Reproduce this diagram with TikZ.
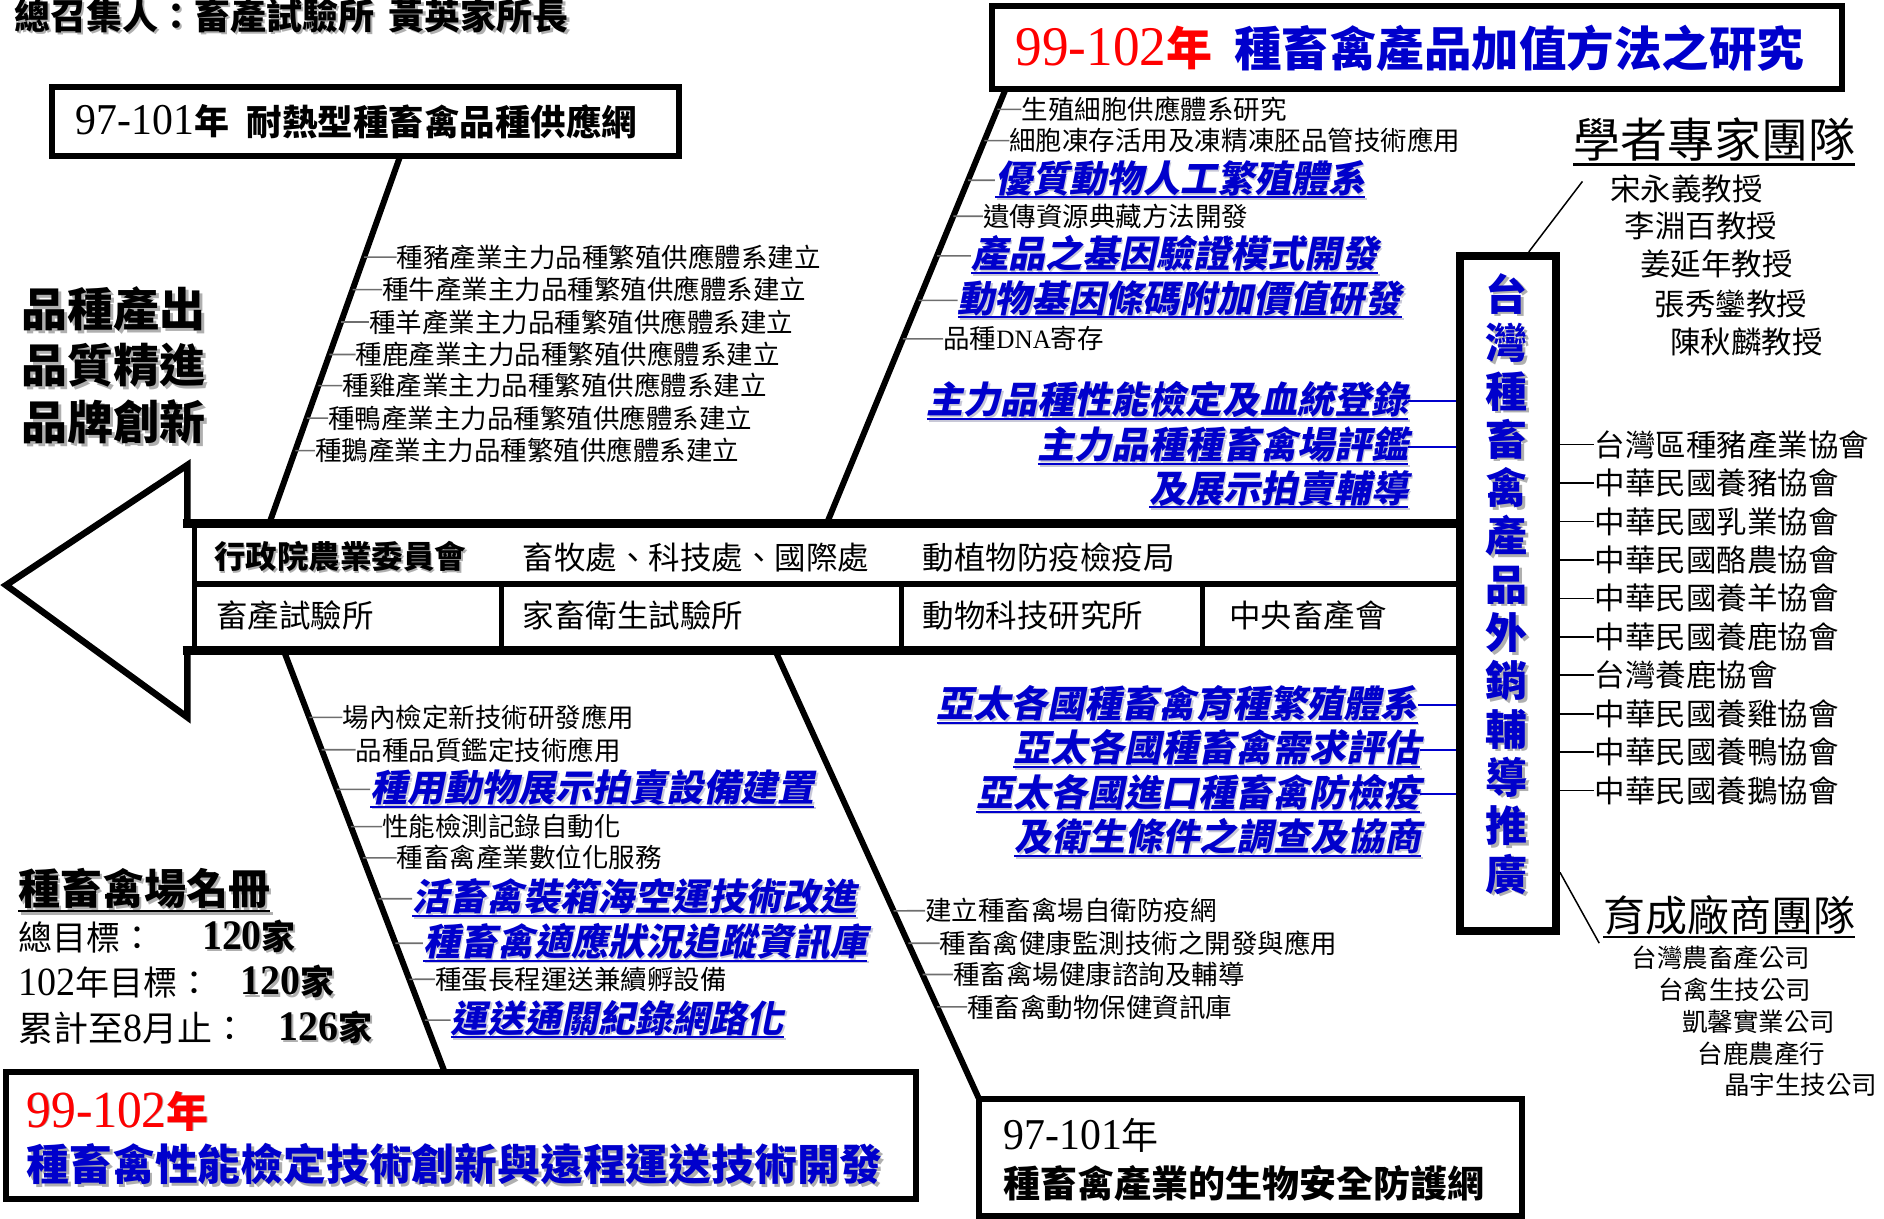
\documentclass[tikz,border=0pt]{standalone}
\usepackage{fontspec}
\setmainfont{Noto Sans CJK TC}
\newfontfamily\cjkbi[FakeSlant=0.2]{Noto Sans CJK TC}
\newfontfamily\latn[FakeStretch=0.95]{Liberation Serif}
\usetikzlibrary{fit,calc}
\definecolor{myblue}{RGB}{0,0,204}
\definecolor{myred}{RGB}{255,0,0}
\definecolor{tickgray}{RGB}{110,110,110}
\definecolor{shadowgray}{RGB}{175,175,175}
\definecolor{lightshadow}{RGB}{200,200,215}
\newsavebox\myulbox
\newcommand\myul[1]{\sbox\myulbox{#1}\rlap{\rule[-0.17em]{\wd\myulbox}{0.055em}}\usebox\myulbox}
\newcommand\shd[1]{\leavevmode\rlap{\kern0.06em\raisebox{-0.06em}{\color{shadowgray}#1}}#1}
\newcommand\lshd[1]{\leavevmode\rlap{\kern0.05em\raisebox{-0.05em}{\color{lightshadow}#1}}#1}
\newcommand\fsz[1]{\fontsize{#1}{#1}\selectfont}
\tikzset{
  sm/.style={anchor=west, inner sep=0pt, font=\fsz{26.5}},
  bi/.style={anchor=west, inner sep=0pt, text=myblue, font=\cjkbi\bfseries\fsz{37}},
  bie/.style={bi, anchor=east},
  tb/.style={anchor=west, inner sep=0pt, font=\fsz{31.5}},
  frame/.style={draw, line width=6pt, inner sep=0pt},
  bone/.style={line width=6pt},
  tick/.style={draw=tickgray, line width=1.6pt},
  btick/.style={draw=myblue, line width=1.8pt},
  assoc/.style={anchor=west, inner sep=0pt, font=\fsz{30.5}},
  comp/.style={anchor=west, inner sep=0pt, font=\fsz{25.5}},
  thinlink/.style={line width=1.5pt},
}
\begin{document}
\begin{tikzpicture}[x=1.2015pt, y=-1.2015pt]
\useasboundingbox (0,0) rectangle (1568,1014);

% ---------- title and motto
\node[anchor=west, inner sep=0pt, font=\bfseries\fsz{36}] (title) at (12,14) {\shd{總召集人：畜產試驗所\hspace{0.4em}黃英家所長}};
\node[anchor=west, inner sep=0pt, align=left, font=\bfseries\fontsize{46}{56.5}\selectfont] (motto) at (18,305) {\shd{品種產出}\\\shd{品質精進}\\\shd{品牌創新}};

% ---------- frames
\node[frame, fit={(43,72) (565,130)}] (boxTL) {};
\node[frame, fit={(826,5) (1533,74)}] (boxTR) {};
\node[frame, fit={(5,892) (762,998)}] (boxBL) {};
\node[frame, fit={(815,915) (1267,1012)}] (boxBR) {};
\node[frame, line width=8pt, fit={(1215,213) (1295,775)}] (vb) {};

% ---------- frame texts
\node[anchor=west, inner sep=0pt] (tlnum) at (63,101) {\latn\fsz{44}97-101\normalfont\bfseries\fsz{35}年};
\node[anchor=west, inner sep=0pt, font=\bfseries\fsz{35.5}] (tltx) at (205,101) {耐熱型種畜禽品種供應網};
\node[anchor=west, inner sep=0pt, text=myred] (trnum) at (845,40) {\latn\fsz{56}99-102\normalfont\bfseries\fsz{46}年};
\node[anchor=west, inner sep=0pt, text=myblue, font=\bfseries\fsz{47.5}] (trtx) at (1027,40) {種畜禽產品加值方法之研究};
\node[anchor=west, inner sep=0pt, text=myred] (blnum) at (22,925) {\shd{\latn\fsz{52}99-102\normalfont\bfseries\fsz{42}年}};
\node[anchor=west, inner sep=0pt, text=myblue, font=\bfseries\fsz{42.8}] (bltx) at (22,970) {\shd{種畜禽性能檢定技術創新與遠程運送技術開發}};
\node[anchor=west, inner sep=0pt] (brnum) at (835,945) {\latn\fsz{44}97-101\normalfont\fsz{37}年};
\node[anchor=west, inner sep=0pt, font=\bfseries\fsz{37}] (brtx) at (835,985) {種畜禽產業的生物安全防護網};
\node[anchor=center, inner sep=0pt, text=myblue, align=center, font=\bfseries\fontsize{42}{48.3}\selectfont] (vt) at (1254,487) {\shd{台}\\\shd{灣}\\\shd{種}\\\shd{畜}\\\shd{禽}\\\shd{產}\\\shd{品}\\\shd{外}\\\shd{銷}\\\shd{輔}\\\shd{導}\\\shd{推}\\\shd{廣}};

% ---------- spine (arrow)
\draw[line width=6.5pt, line join=miter] (156,436) -- (156,387) -- (5,487) -- (156,597) -- (156,541);
\draw[line width=9pt] (152,436) -- (1215,436);
\draw[line width=9pt] (152,541) -- (1215,541);
\draw[line width=6pt] (162,486) -- (1215,486);
\draw[line width=4.5pt] (162,436) -- (162,541);
\draw[line width=5pt] (417,486) -- (417,541);
\draw[line width=5pt] (750,486) -- (750,541);
\draw[line width=5pt] (1001,486) -- (1001,541);

\node[tb, font=\bfseries\fsz{31.5}] (t1) at (178,464) {\shd{行政院農業委員會}};
\node[tb] (t2) at (435,464) {畜牧處、科技處、國際處};
\node[tb] (t3) at (768,464) {動植物防疫檢疫局};
\node[tb] (t4) at (180,512) {畜產試驗所};
\node[tb] (t5) at (435,512) {家畜衛生試驗所};
\node[tb] (t6) at (768,512) {動物科技研究所};
\node[tb] (t7) at (1023,512) {中央畜產會};

% ---------- bones
\coordinate (b1t) at (333,130); \coordinate (b1b) at (224,436);
\coordinate (b2t) at (837,74);  \coordinate (b2b) at (688,436);
\coordinate (b3t) at (236,541); \coordinate (b3b) at (370,892);
\coordinate (b4t) at (645,541); \coordinate (b4b) at (815,915);
\draw[bone] (b1t) -- (b1b);
\draw[bone] (b2t) -- (b2b);
\draw[bone] (b3t) -- (b3b);
\draw[bone] (b4t) -- (b4b);

% ---------- upper-left bone items
\foreach \n/\x/\y/\a in {u1/330/214/豬, u2/318/241/牛, u3/307/268/羊, u4/296/295/鹿, u5/285/321/雞, u6/273/348/鴨, u7/262/375/鵝}{
  \node[sm] (\n) at (\x,\y) {種\a 產業主力品種繁殖供應體系建立};
  \draw[tick] (\n.west) -- (intersection of b1t--b1b and \n.west--\n.east);
}

% ---------- upper-right bone items
\node[sm] (r1) at (850,91) {生殖細胞供應體系研究};
\node[sm] (r2) at (840,117) {細胞凍存活用及凍精凍胚品管技術應用};
\node[bi] (r3) at (828,150) {\lshd{\myul{優質動物人工繁殖體系}}};
\node[sm] (r4) at (818,180) {遺傳資源典藏方法開發};
\node[bi] (r5) at (808,213) {\lshd{\myul{產品之基因驗證模式開發}}};
\node[bi] (r6) at (797,250) {\lshd{\myul{動物基因條碼附加價值研發}}};
\node[sm] (r7) at (785,282) {品種{\latn DNA}寄存};
\foreach \n in {r1,r2,r3,r4,r5,r6,r7}{
  \draw[tick] (\n.west) -- (intersection of b2t--b2b and \n.west--\n.east);
}
\node[bie] (q1) at (1172,334) {\lshd{\myul{主力品種性能檢定及血統登錄}}};
\node[bie] (q2) at (1172,372) {\lshd{\myul{主力品種種畜禽場評鑑}}};
\node[bie] (q3) at (1172,408) {\lshd{\myul{及展示拍賣輔導}}};
\draw[btick] (q1.east) -- (q1.east -| vb.west);
\draw[btick] (q2.east) -- (q2.east -| vb.west);

% ---------- lower-left bone items
\node[sm] (l1) at (285,597) {場內檢定新技術研發應用};
\node[sm] (l2) at (296,624) {品種品質鑑定技術應用};
\node[bi] (l3) at (308,657) {\lshd{\myul{種用動物展示拍賣設備建置}}};
\node[sm] (l4) at (318,688) {性能檢測記錄自動化};
\node[sm] (l5) at (330,714) {種畜禽產業數位化服務};
\node[bi] (l6) at (343,748) {\lshd{\myul{活畜禽裝箱海空運技術改進}}};
\node[bi] (l7) at (352,785) {\lshd{\myul{種畜禽適應狀況追蹤資訊庫}}};
\node[sm] (l8) at (362,815) {種蛋長程運送兼續孵設備};
\node[bi] (l9) at (375,849) {\lshd{\myul{運送通關紀錄網路化}}};
\foreach \n in {l1,l2,l3,l4,l5,l6,l7,l8,l9}{
  \draw[tick] (\n.west) -- (intersection of b3t--b3b and \n.west--\n.east);
}

% ---------- lower-right bone items
\node[sm] (m1) at (770,758) {建立種畜禽場自衛防疫網};
\node[sm] (m2) at (782,785) {種畜禽健康監測技術之開發與應用};
\node[sm] (m3) at (793,811) {種畜禽場健康諮詢及輔導};
\node[sm] (m4) at (805,838) {種畜禽動物保健資訊庫};
\foreach \n in {m1,m2,m3,m4}{
  \draw[tick] (\n.west) -- (intersection of b4t--b4b and \n.west--\n.east);
}
\node[bie] (p1) at (1180,587) {\lshd{\myul{亞太各國種畜禽育種繁殖體系}}};
\node[bie] (p2) at (1182,624) {\lshd{\myul{亞太各國種畜禽需求評估}}};
\node[bie] (p3) at (1182,661) {\lshd{\myul{亞太各國進口種畜禽防檢疫}}};
\node[bie] (p4) at (1183,698) {\lshd{\myul{及衛生條件之調查及協商}}};
\draw[btick] (p1.east) -- (p1.east -| vb.west);
\draw[btick] (p2.east) -- (p2.east -| vb.west);
\draw[btick] (p3.east) -- (p3.east -| vb.west);

% ---------- experts
\node[anchor=west, inner sep=0pt, font=\fsz{47}] (exp) at (1309,118) {\myul{學者專家團隊}};
\node[assoc] (e1) at (1340,157) {宋永義教授};
\node[assoc] (e2) at (1352,188) {李淵百教授};
\node[assoc] (e3) at (1365,220) {姜延年教授};
\node[assoc] (e4) at (1377,253) {張秀鑾教授};
\node[assoc] (e5) at (1390,285) {陳秋麟教授};
\coordinate (ex1) at (1317,151);
\draw[thinlink] (ex1) -- ($(vb.north west)!0.7!(vb.north east)$);

% ---------- associations
\foreach \n/\y/\t in {a1/370/台灣區種豬產業協會, a2/402/中華民國養豬協會, a3/434/中華民國乳業協會, a4/466/中華民國酪農協會, a5/498/中華民國養羊協會, a6/530/中華民國養鹿協會, a7/562/台灣養鹿協會, a8/594/中華民國養雞協會, a9/626/中華民國養鴨協會, a10/658/中華民國養鵝協會}{
  \node[assoc] (\n) at (1327,\y) {\t};
  \draw[tick, draw=black] (vb.east |- \n.west) -- (\n.west);
}

% ---------- incubator companies
\node[anchor=west, inner sep=0pt, font=\fsz{42}] (inc) at (1334,763) {\myul{育成廠商團隊}};
\coordinate (ic1) at (1331,785);
\draw[thinlink] ($(vb.north east)!0.908!(vb.south east)$) -- (ic1);
\node[comp] (c1) at (1358,797) {台灣農畜產公司};
\node[comp] (c2) at (1380,824) {台禽生技公司};
\node[comp] (c3) at (1400,850) {凱馨實業公司};
\node[comp] (c4) at (1413,877) {台鹿農產行};
\node[comp] (c5) at (1435,903) {晶宇生技公司};

% ---------- farm registry
\node[anchor=west, inner sep=0pt, font=\bfseries\fsz{42}] (reg) at (15,742) {\shd{\myul{種畜禽場名冊}}};
\node[anchor=west, inner sep=0pt, font=\fsz{34}] (g1) at (15,780) {總目標：};
\node[anchor=west, inner sep=0pt, font=\fsz{34}] (g2) at (15,818) {{\latn\fsz{40}102}年目標：};
\node[anchor=west, inner sep=0pt, font=\fsz{35}] (g3) at (15,856) {累計至{\latn\fsz{40}8}月止：};
\node[anchor=west, inner sep=0pt, font=\bfseries\fsz{34}] (n1) at (168,780) {\shd{{\latn\bfseries\fsz{42}120}家}};
\node[anchor=west, inner sep=0pt, font=\bfseries\fsz{34}] (n2) at (200,818) {\shd{{\latn\bfseries\fsz{42}120}家}};
\node[anchor=west, inner sep=0pt, font=\bfseries\fsz{34}] (n3) at (232,856) {\shd{{\latn\bfseries\fsz{42}126}家}};
\end{tikzpicture}
\end{document}
